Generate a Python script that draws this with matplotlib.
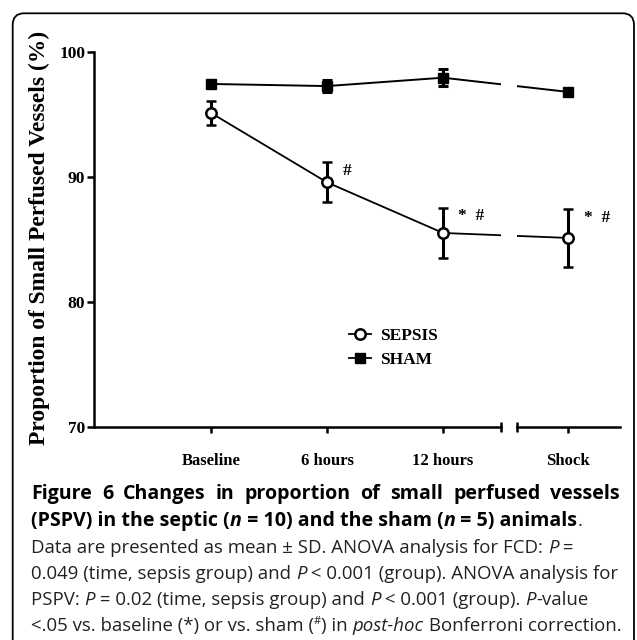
import matplotlib
matplotlib.use("Agg")
import matplotlib.pyplot as plt
from matplotlib.patches import FancyBboxPatch
from matplotlib.lines import Line2D

# data
categories = ["Baseline", "6 hours", "12 hours", "Shock"]
sepsis_mean = [95.1, 89.55, 85.5, 85.1]
sepsis_sd = [0.95, 1.6, 2.0, 2.3]
sham_mean = [97.42, 97.25, 97.92, 96.78]
sham_sd = [0.2, 0.45, 0.7, 0.15]
marks = ["", "#", "*  #", "*  #"]

xpos = [0, 1, 2, 3.08]   # shock sits after an axis break

W, H = 637, 640
fig = plt.figure(figsize=(W / 100, H / 100), dpi=100)

serif = "Liberation Serif"
sans = "Open Sans"

# rounded frame around the whole figure
fig.patches.append(FancyBboxPatch((12.7 / W, -0.05), (634 - 12.7) / W, 1.05 - 13.3 / H,
                                  boxstyle="round,pad=0,rounding_size=0.018",
                                  transform=fig.transFigure, fill=False,
                                  ec="black", lw=1.3))

def px(x0, x1, y0, y1):
    return [x0 / W, 1 - y1 / H, (x1 - x0) / W, (y1 - y0) / H]

ax1 = fig.add_axes(px(94.3, 501, 51.7, 426.7))
ax2 = fig.add_axes(px(517, 620, 51.7, 426.7), sharey=ax1)

for ax in (ax1, ax2):
    ax.errorbar(xpos, sham_mean, yerr=sham_sd, color="black", lw=1.4, marker="s",
                ms=7.5, mfc="black", mec="black", elinewidth=2.2, capsize=3.8,
                capthick=2.2, zorder=3)
    ax.errorbar(xpos, sepsis_mean, yerr=sepsis_sd, color="black", lw=1.3, marker="o",
                ms=7.5, mfc="white", mec="black", mew=1.8, elinewidth=2.2,
                capsize=3.8, capthick=2.2, zorder=4)
    for sp in ("top", "right"):
        ax.spines[sp].set_visible(False)
    ax.spines["bottom"].set_linewidth(1.8)
    ax.spines["left"].set_linewidth(1.8)
    ax.tick_params(axis="x", length=4, width=1.8, pad=15)
    ax.tick_params(axis="y", length=5, width=1.8, pad=1.5)

ax1.set_xticks(xpos[:3])
ax1.set_xticklabels(categories[:3], fontsize=12, fontweight="bold", family=serif)
ax2.set_xticks(xpos[3:])
ax2.set_xticklabels(categories[3:], fontsize=12, fontweight="bold", family=serif)
ax1.set_xlim(-1.006, 2.5)
ax2.set_xlim(2.638, 3.526)
ax1.set_ylim(70, 100)

for ax, sl in ((ax1, slice(0, 3)), (ax2, slice(3, 4))):
    for x, m, s, t in zip(xpos[sl], sepsis_mean[sl], sepsis_sd[sl], marks[sl]):
        if t:
            ax.annotate(t, (x, m + s), xytext=(11, -6), textcoords="offset points",
                        ha="left", va="center", fontsize=12.5, fontweight="bold",
                        family=serif)

ax2.spines["left"].set_visible(False)
ax2.tick_params(axis="y", left=False, labelleft=False)

ax1.set_yticks([70, 80, 90, 100])
for lab in ax1.get_yticklabels():
    lab.set_fontweight("bold")
    lab.set_family(serif)
    lab.set_fontsize(12.5)

ax1.set_ylabel("Proportion of Small Perfused Vessels (%)", fontsize=16.9,
               fontweight="bold", family=serif, va="center")
ax1.yaxis.set_label_coords(-0.136, 0.5045)

# break marks at the ends of the two x-axis pieces
ax1.plot([1], [0], marker="|", ms=7, mew=1.8, color="black",
         transform=ax1.transAxes, clip_on=False)
ax2.plot([0], [0], marker="|", ms=7, mew=1.8, color="black",
         transform=ax2.transAxes, clip_on=False)

h_sepsis = Line2D([], [], color="black", lw=1.3, marker="o", ms=7.5,
                  mfc="white", mec="black", mew=1.8)
h_sham = Line2D([], [], color="black", lw=1.3, marker="s", ms=7.5, mfc="black")
ax1.legend([h_sepsis, h_sham], ["SEPSIS", "SHAM"], frameon=False,
           prop={"family": serif, "weight": "bold", "size": 12.5},
           handlelength=1.3, handletextpad=0.5, labelspacing=0.45,
           loc="upper left", bbox_to_anchor=((333 - 94.3) / 406.7, (426.7 - 312) / 375))

# caption, set run by run
B, N, I, BI, SUP = "bold", "normal", "italic", "bolditalic", "sup"
lines = [
    [("Figure 6 Changes in proportion of small perfused vessels", B)],
    [("(PSPV) in the septic (", B), ("n", BI), (" = 10) and the sham (", B), ("n", BI),
     (" = 5) animals", B), (".", N)],
    [("Data are presented as mean \u00b1 SD. ANOVA analysis for FCD: ", N), ("P", I), (" =", N)],
    [("0.049 (time, sepsis group) and ", N), ("P", I), (" < 0.001 (group). ANOVA analysis for", N)],
    [("PSPV: ", N), ("P", I), (" = 0.02 (time, sepsis group) and ", N), ("P", I),
     (" < 0.001 (group). ", N), ("P", I), ("-value", N)],
    [("<.05 vs. baseline (*) or vs. sham (", N), ("#", SUP), (") in ", N), ("post-hoc", I),
     (" Bonferroni correction.", N)],
]
line_y = [499, 526, 553, 579, 605, 631]
justify = [True, False, False, False, False, False]
title_size = 14.1
body_size = 13.4
x_left, x_right = 31, 620
renderer = fig.canvas.get_renderer()

def style(kind):
    d = dict(family=sans, fontsize=body_size, color="#222222")
    if kind in (B, BI):
        d["fontweight"] = "bold"
        d["color"] = "black"
        d["fontsize"] = title_size
    if kind in (I, BI):
        d["fontstyle"] = "italic"
    if kind == SUP:
        d["fontsize"] = body_size * 0.6
    return d

def run_width(s, kind):
    t = fig.text(0, 0, "|" + s + "|", **style(kind))
    w = t.get_window_extent(renderer).width
    t.remove()
    t = fig.text(0, 0, "||", **style(kind))
    w -= t.get_window_extent(renderer).width
    t.remove()
    return w

for runs, y, just in zip(lines, line_y, justify):
    if just:
        # single-style line spread to the full column width
        text, kind = runs[0]
        words = text.split(" ")
        widths = [run_width(w, kind) for w in words]
        gap = (x_right - x_left - sum(widths)) / (len(words) - 1)
        x = x_left
        for w, wd in zip(words, widths):
            fig.text(x / W, 1 - y / H, w, ha="left", va="baseline", **style(kind))
            x += wd + gap
        continue
    x = x_left
    for s, kind in runs:
        yy = y - 7 if kind == SUP else y
        fig.text(x / W, 1 - yy / H, s, ha="left", va="baseline", **style(kind))
        x += run_width(s, kind)

fig.savefig("out.png", dpi=100)
